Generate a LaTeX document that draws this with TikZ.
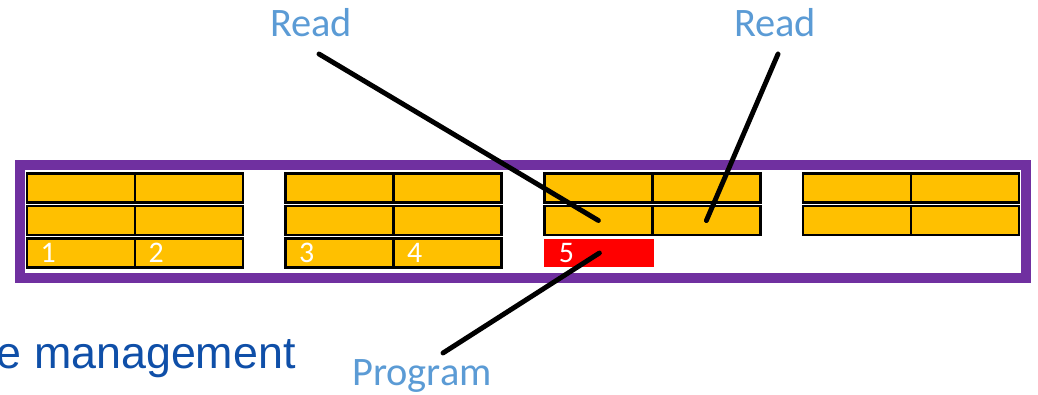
\documentclass[tikz,border=0pt]{standalone}
\usepackage{fontspec}
\setmainfont{Carlito}
\newfontfamily\arialfont{Liberation Sans}
\usetikzlibrary{shadows}

\definecolor{gold}{HTML}{FFC000}
\definecolor{blockpurple}{HTML}{7030A0}
\definecolor{lblblue}{HTML}{5B9BD5}
\definecolor{titleblue}{HTML}{0F4FA8}

\tikzset{
  cell/.style={draw=black, line width=1.5pt, fill=gold, minimum width=2.16cm,
    minimum height=0.58cm, inner xsep=0.27cm, inner ysep=0pt, text width=1.62cm,
    align=left, text=white, font=\fontsize{17}{17}\selectfont},
  oplabel/.style={anchor=base, text=lblblue, font=\fontsize{23}{27}\selectfont},
  wire/.style={line width=2.8pt, line cap=round},
}

\begin{document}
\begin{tikzpicture}[x=0.02cm, y=-0.02cm]
  \clip (0,0) rectangle (1038,395);

  % the block
  \draw[line width=5.8pt, draw=blockpurple, fill=white,
        drop shadow={opacity=0.3, shadow xshift=1pt, shadow yshift=-2.5pt}]
    (20,165) rectangle (1026,278);

  % pages: four groups of two columns
  \def\gx{258.7}
  \foreach \g/\n in {0/2,1/2,2/2,3/2} {
    \foreach \r in {1,...,\n} {
      \foreach \c in {1,2} {
        \node[cell] (c\g-\r-\c) at ({81+\gx*\g+108*(\c-1)}, {188+32.5*(\r-1)}) {};
      }
    }
  }
  \foreach \g in {0,1} {
    \foreach \c in {1,2} {
      \pgfmathtruncatemacro\k{2*\g+\c}
      \node[cell] (c\g-3-\c) at ({81+\gx*\g+108*(\c-1)}, 253) {\k};
    }
  }
  \node[cell, draw=none, fill=red, minimum width=2.2cm] (c2-3-1) at ({82+\gx*2}, 253) {5};

  % labels
  \node[oplabel] (read1) at (311,37) {Read};
  \node[oplabel] (read2) at (775,37) {Read};
  \node[oplabel] (prog) at (422,385) {Program};
  \node[anchor=base east, inner sep=0pt, text=titleblue,
        font=\arialfont\fontsize{25.5}{30}\selectfont]
    (mgmt) at (296,368) {e management};

  \coordinate (r1) at (319,54);
  \coordinate (r2) at (778,54);
  \coordinate (p1) at (443,353);

  \draw[wire] (r1) -- (c2-2-1.center);
  \draw[wire] (r2) -- (c2-2-2.center);
  \draw[wire] (p1) -- (c2-3-1.center);
\end{tikzpicture}
\end{document}
